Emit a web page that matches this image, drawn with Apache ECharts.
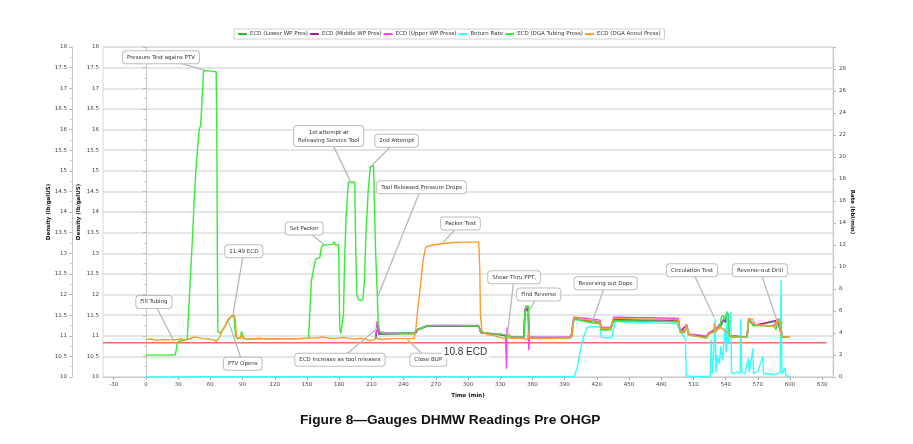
<!DOCTYPE html>
<html><head><meta charset="utf-8">
<script src="https://cdn.jsdelivr.net/npm/echarts@6/dist/echarts.min.js"></script>
<style>html,body{margin:0;padding:0;background:#fff}#c{width:913px;height:444px}</style>
</head><body><div id="c"></div>
<script>
const seriesNames = ['ECD (Lower WP Pres)','ECD (Middle WP Pres)','ECD (Upper WP Press)','Return Rate','ECD (DGA Tubing Press)','ECD (DGA Annul Press)'];
const xTicks = [-30,0,30,60,90,120,150,180,210,240,270,300,330,360,390,420,450,480,510,540,570,600,630];
const chartTitle = 'Figure 8\u2014Gauges DHMW Readings Pre OHGP';

const lowerWP = [[214,10.94],[215.5,11.2],[217,11.04],[240,11.05],[251,11.05],[253,11.14],[262,11.23],[310,11.23],[312,11.07],[330,11.02],[336,10.99],[345,10.95],[352,10.95],[353,11.58],[356,11.66],[357,10.95],[396,10.95],[398.5,11.4],[410,11.36],[423,11.32],[424,11.16],[433,11.16],[435.6,11.38],[496,11.35],[497.5,11.09],[503.5,11.25],[505.5,11.02],[522,10.96],[524,11.04],[535,11.22],[538,11.36],[540,11.32],[542,11.52],[543.5,10.99],[560,10.96],[561.5,11.38],[566,11.24],[588.5,11.36],[592.5,10.96],[597,10.96]];

const middleWP = [[214,10.95],[215.5,11.25],[217,11.05],[240,11.06],[251,11.06],[253,11.15],[262,11.24],[310,11.24],[312,11.08],[330,11.03],[336,11.0],[345,10.96],[352,10.96],[353,11.6],[356,11.68],[357,10.96],[396,10.96],[398.5,11.42],[410,11.38],[423,11.34],[424,11.17],[433,11.17],[435.6,11.4],[496,11.37],[497.5,11.1],[503.5,11.26],[505.5,11.03],[522,10.97],[524,11.05],[535,11.25],[538,11.4],[540,11.35],[542,11.55],[543.5,11.0],[560,10.97],[561.5,11.4],[566,11.25],[588.5,11.38],[592.5,10.97],[597,10.97]];

const upperWP = [[214,10.95],[215.3,11.35],[216,11.1],[217,11.08],[225,11.07],[240,11.07],[250,11.07],[252,11.15],[262,11.25],[310,11.25],[311.5,11.1],[313,11.07],[320,11.04],[330,11.04],[335,11.02],[335.8,10.2],[336.4,11.2],[337,10.97],[345,10.97],[352,10.97],[353,11.65],[356,11.7],[356.6,10.65],[357.2,10.97],[365,10.96],[380,10.96],[396,10.97],[398.5,11.45],[400,11.48],[410,11.42],[423,11.38],[424,11.2],[433,11.2],[435.6,11.45],[460,11.44],[480,11.43],[496,11.42],[497.5,11.12],[502,11.12],[503.5,11.28],[505,11.27],[506,11.04],[515,11.02],[522,10.99],[524,11.07],[530,11.12],[535,11.3],[538,11.38],[540,11.45],[542,11.5],[543.5,11.02],[550,10.98],[560,10.98],[561.5,11.42],[566,11.27],[585,11.24],[588.5,11.4],[591,11.38],[592.5,10.98],[597,10.98]];

const returnRate = [[0,0],[50,0.02],[100,0.02],[150,0.03],[200,0.02],[250,0.03],[300,0.03],[350,0.02],[399,0.05],[401.6,0.8],[404.7,2.45],[407.7,3.66],[410.9,4.5],[415,4.6],[420,4.55],[423.3,4.55],[424,3.6],[430,3.55],[434,3.6],[437.2,5.1],[445,5.0],[455,4.9],[465,4.95],[475,4.9],[485,4.9],[494.6,4.85],[496,4.5],[500,3.8],[502.5,3.5],[503.3,0.1],[510,0.05],[520,0.05],[525.6,0.05],[526.5,3.4],[527.5,0.3],[529,2.5],[530.2,5.3],[531,0.4],[532,2.0],[534,1.2],[535.5,2.8],[537,1.5],[539.5,4.5],[540.5,2.2],[541.5,6.0],[542.5,3.0],[543.5,4.8],[544.8,5.9],[545.5,0.4],[548,0.3],[551,0.5],[553.5,0.3],[554.1,5.3],[555,0.4],[558,0.3],[561.2,1.7],[562,0.4],[565.3,2.6],[566,0.3],[570,0.5],[574.6,1.9],[575.3,0.3],[580,0.3],[585,0.2],[590.7,0.4],[591.6,8.85],[592.4,0.3],[594,0.2],[595.5,0.8],[596,0.1],[600,0.05]];

const dgaTubing = [[0,10.53],[10,10.53],[20,10.53],[27.5,10.54],[29,10.8],[30,10.86],[33,10.88],[36,10.9],[38.5,10.92],[39.5,11.46],[41,12.2],[43,13.2],[45,14.3],[47,15.2],[49.6,16.0],[51,16.1],[53.7,17.43],[58,17.42],[62,17.41],[65.4,17.4],[66,16.0],[66.5,13.0],[67,11.1],[69,11.06],[72,11.15],[75,11.3],[78,11.42],[80,11.47],[82,11.45],[83.5,11.0],[85,10.93],[88,10.94],[89,11.1],[90,11.12],[91,10.95],[95,10.92],[105,10.93],[115,10.92],[125,10.93],[135,10.92],[145,10.93],[151.5,10.94],[152.5,11.5],[154,12.3],[156,12.6],[158,12.85],[160,12.88],[162,12.9],[163.5,13.15],[165,13.2],[170,13.21],[174,13.22],[175.5,13.28],[176.5,13.2],[179.5,13.2],[180,12.2],[180.5,11.2],[181.5,11.05],[183,11.06],[184,11.5],[185,12.8],[186.5,13.9],[188.5,14.72],[192,14.73],[194.5,14.72],[195.5,13.0],[196.5,12.0],[198,11.88],[200,11.85],[202,11.88],[203.5,12.3],[205,13.5],[207,14.5],[209,15.1],[212,15.12],[213,14.0],[214,13.0],[215.5,12.0],[216.4,11.3],[218,11.08],[220,11.06],[230,11.06],[240,11.06],[250,11.06],[251.5,11.12],[253,11.16],[258,11.2],[262,11.24],[270,11.25],[280,11.25],[290,11.25],[300,11.24],[310,11.24],[311.5,11.1],[313,11.07],[318,11.06],[322,11.04],[330,11.04],[335,11.02],[336.5,10.97],[340,10.97],[345,10.96],[350,10.97],[352.3,10.97],[353,11.6],[354,11.72],[356.5,11.72],[357,10.97],[360,10.95],[370,10.94],[380,10.94],[390,10.95],[396,10.96],[398.5,11.35],[400,11.42],[405,11.37],[410,11.34],[418,11.3],[423,11.3],[424,11.14],[430,11.14],[433,11.15],[435.5,11.34],[440,11.36],[460,11.35],[480,11.35],[496,11.33],[497.5,11.08],[502,11.08],[503.5,11.25],[505,11.24],[506,11.02],[510,11.0],[515,10.98],[522,10.96],[524,11.04],[528,11.08],[531,11.12],[533,11.2],[535,11.25],[536,11.45],[537.5,11.5],[539,11.38],[540,11.5],[541.5,11.57],[542.5,11.5],[543.5,11.0],[545,10.97],[550,10.97],[560,10.97],[561.5,11.38],[563,11.4],[566,11.25],[575,11.24],[585,11.22],[587,11.15],[588.5,11.36],[590,11.38],[591,11.35],[592.5,10.98],[596,10.98],[600,10.97]];

const dgaAnnul = [[0,10.91],[5,10.92],[8,10.9],[10,10.88],[12,10.9],[18,10.91],[22,10.9],[28,10.91],[33,10.92],[38,10.9],[42,10.94],[45,10.97],[48,10.96],[52,10.93],[58,10.92],[63,10.9],[65.5,10.86],[67,10.88],[69,10.98],[71.3,11.14],[74,11.25],[76,11.38],[78.5,11.45],[80.6,11.5],[82.8,11.48],[83.5,11.3],[84.3,10.96],[86,10.93],[88,10.94],[89.5,11.02],[90.5,10.93],[95,10.92],[100,10.92],[105,10.94],[110,10.93],[120,10.92],[130,10.93],[140,10.93],[150,10.94],[160,10.95],[165,10.97],[170,10.94],[176,10.93],[180,10.95],[185,10.96],[190,10.93],[195,10.92],[200,10.94],[205,10.92],[208,10.88],[212,10.9],[215,10.95],[217,10.92],[220,10.91],[225,10.92],[230,10.93],[240,10.93],[249.6,10.93],[251.2,11.1],[253,11.6],[255.8,12.23],[258,12.8],[260.5,13.14],[263,13.17],[266.7,13.2],[275,13.23],[286.8,13.26],[295,13.27],[303,13.27],[310,13.27],[311,12.6],[311.6,11.5],[313,11.1],[318,11.03],[325,11.0],[330,10.96],[333,10.93],[336.4,10.94],[338,11.05],[339,10.94],[345,10.94],[352,10.93],[355.5,10.9],[356.5,11.1],[357.5,10.94],[365,10.93],[375,10.93],[385,10.94],[394,10.95],[397,10.98],[398.4,11.4],[400,11.46],[405,11.4],[412,11.38],[420,11.34],[423,11.34],[424,11.18],[432.6,11.18],[435.6,11.42],[450,11.41],[470,11.4],[490,11.39],[496,11.38],[497.6,11.1],[502,11.1],[503.3,11.27],[505,11.27],[505.4,11.02],[512,10.99],[518,10.96],[522.5,10.94],[524,11.04],[528.7,11.08],[529.5,11.3],[530.5,11.1],[533,11.16],[536,11.2],[538,11.14],[541,11.1],[543,11.04],[544.2,10.96],[550,10.96],[559.7,10.96],[561.2,11.42],[565,11.4],[568,11.26],[575,11.25],[586,11.23],[588,11.35],[589,11.42],[590.5,11.4],[592.2,10.96],[596,10.97],[600,10.97]];

const ecdLimit = [[-40,10.83],[634,10.83]];

const notes = [
  {text:'Pressure Test agains PTV', at:[54,17.44], box:[14,17.75]},
  {text:'11.49 ECD', at:[80.9,11.48], box:[91.2,13.05]},
  {text:'Set Packer', at:[165.6,13.22], box:[147.4,13.6]},
  {text:'1st attempt at\nReleasing Service Tool', at:[190.7,14.73], box:[170.2,15.84]},
  {text:'2nd Attempt', at:[210.2,15.12], box:[233.5,15.73]},
  {text:'Tool Released Pressure Drops', at:[215.8,11.94], box:[256.7,14.6]},
  {text:'Packer Test', at:[277.2,13.27], box:[293,13.72]},
  {text:'Fill Tubing', at:[26,10.87], box:[7.4,11.82]},
  {text:'PTV Opens', at:[77.2,11.33], box:[90.2,10.32]},
  {text:'ECD Increase as tool releases', at:[215.8,11.19], box:[180.7,10.42]},
  {text:'Close BUP', at:[243.4,10.91], box:[263,10.42]},
  {text:'10.8 ECD', at:null, box:[297.7,10.59], plain:true},
  {text:'Shear Thru PPT,', at:[336.7,11.02], box:[343,12.42]},
  {text:'Find Reverse', at:[354.4,11.5], box:[365.9,12.0]},
  {text:'Reversing out Dope', at:[415.8,11.33], box:[428.2,12.27]},
  {text:'Circulation Test', at:[529.3,11.45], box:[508.6,12.59]},
  {text:'Reverse-out Drill', at:[587.9,11.36], box:[571.9,12.59]}
];

const colors = ['#2fb52f','#a020a0','#ff3cff','#33ffff','#33ee33','#ff9a2e'];
const small = 'DejaVu Sans';
const fs = 5.5;

function renderNote(params, api){
  const n = notes[params.dataIndex];
  const b = api.coord(n.box);
  const kids = [];
  if (n.at){
    const a = api.coord(n.at);
    kids.push({type:'line', shape:{x1:a[0],y1:a[1],x2:b[0],y2:b[1]}, style:{stroke:'#b8b8b8', lineWidth:1.3}});
  }
  if (n.plain){
    kids.push({type:'text', x:b[0], y:b[1], style:{text:n.text, fill:'#333', fontSize:10, fontFamily:'Liberation Sans Narrow, Liberation Sans', align:'center', verticalAlign:'middle', backgroundColor:'#fff', padding:[1,2]}});
  } else {
    kids.push({type:'text', x:b[0], y:b[1], style:{text:n.text, fill:'#333', fontSize:fs, fontFamily:small, align:'center', verticalAlign:'middle', lineHeight:8, backgroundColor:'#fff', borderColor:'#bdbdbd', borderWidth:1, borderRadius:3, padding:[2,4], boxShadowBlur:2, boxShadowColor:'rgba(0,0,0,0.15)', boxShadowOffsetY:1}});
  }
  return {type:'group', children:kids};
}

function lineSeries(i, data, yIdx){
  return {name:seriesNames[i], type:'line', data:data, yAxisIndex:yIdx, showSymbol:false, symbol:'none', color:colors[i], lineStyle:{width:1.4, color:colors[i]}, animation:false, z:2+i};
}

const axisLabelStyle = {fontSize:fs, fontFamily:small, color:'#444'};
const nameStyle = {fontSize:fs, fontFamily:small, fontWeight:'bold', color:'#111'};

const chart = echarts.init(document.getElementById('c'), null, {renderer:'canvas'});
chart.setOption({
  animation:false,
  backgroundColor:'#fff',
  grid:{left:103, right:80, top:47, bottom:67, show:true, borderColor:'#d6d6d6', borderWidth:1, outerBoundsMode:'none'},
  legend:{data:seriesNames, left:234, top:29, padding:[2,4,2,4], itemGap:2, itemWidth:9, itemHeight:2, icon:'rect', borderColor:'#cfcfcf', borderWidth:1, textStyle:{fontSize:fs, fontFamily:small, color:'#333', padding:[0,0,0,-2]}},
  graphic:[{type:'text', left:300, top:413, style:{text:chartTitle, fontSize:13.7, fontWeight:'bold', fontFamily:'Liberation Sans', fill:'#111'}}],
  xAxis:{type:'value', min:-40, max:640, name:'Time (min)', nameLocation:'middle', nameGap:14, nameTextStyle:nameStyle,
    axisLine:{show:true, onZero:false, lineStyle:{color:'#c8c8c8'}},
    axisTick:{show:true, customValues:xTicks, length:3, lineStyle:{color:'#aaa'}},
    axisLabel:Object.assign({customValues:xTicks, margin:5}, axisLabelStyle),
    splitLine:{show:false}},
  yAxis:[
    {type:'value', position:'left', min:10, max:18, interval:0.5, name:'Density (lb/galUS)', nameLocation:'middle', nameRotate:90, nameGap:21, nameMoveOverlap:false, nameTextStyle:nameStyle,
      axisLine:{show:true, lineStyle:{color:'#c8c8c8'}}, axisTick:{show:true, length:3, lineStyle:{color:'#bbb'}},
      minorTick:{show:true, splitNumber:2, length:2, lineStyle:{color:'#ccc'}},
      axisLabel:Object.assign({margin:4}, axisLabelStyle), splitLine:{show:true, lineStyle:{color:'#dcdcdc', width:1.5}}},
    {type:'value', position:'left', offset:31, min:10, max:18, interval:0.5, name:'Density (lb/galUS)', nameLocation:'middle', nameRotate:90, nameGap:20, nameMoveOverlap:false, nameTextStyle:nameStyle,
      axisLine:{show:true, lineStyle:{color:'#c8c8c8'}}, axisTick:{show:true, length:3, lineStyle:{color:'#bbb'}},
      minorTick:{show:true, splitNumber:2, length:2, lineStyle:{color:'#ccc'}},
      axisLabel:Object.assign({margin:5}, axisLabelStyle), splitLine:{show:false}},
    {type:'value', position:'right', min:0, max:30, interval:2, name:'Rate (bbl/min)', nameLocation:'middle', nameRotate:-90, nameGap:16, nameMoveOverlap:false, nameTextStyle:nameStyle,
      axisLine:{show:true, lineStyle:{color:'#c8c8c8'}}, axisTick:{show:true, length:3, lineStyle:{color:'#bbb'}},
      minorTick:{show:true, splitNumber:2, length:2, lineStyle:{color:'#ccc'}},
      axisLabel:Object.assign({margin:6, showMaxLabel:false}, axisLabelStyle), splitLine:{show:false}}
  ],
  series:[
    {name:'limit', type:'line', data:ecdLimit, yAxisIndex:0, showSymbol:false, symbol:'none', lineStyle:{color:'#ff6b6b', width:1.3}, z:1, silent:true},
    lineSeries(0, lowerWP, 0),
    lineSeries(1, middleWP, 0),
    lineSeries(2, upperWP, 0),
    lineSeries(3, returnRate, 2),
    lineSeries(4, dgaTubing, 0),
    lineSeries(5, dgaAnnul, 0),
    {name:'notes', type:'custom', yAxisIndex:0, renderItem:renderNote, data:notes.map(n=>n.box), z:20, clip:false, silent:true}
  ]
});
</script>
</body></html>
